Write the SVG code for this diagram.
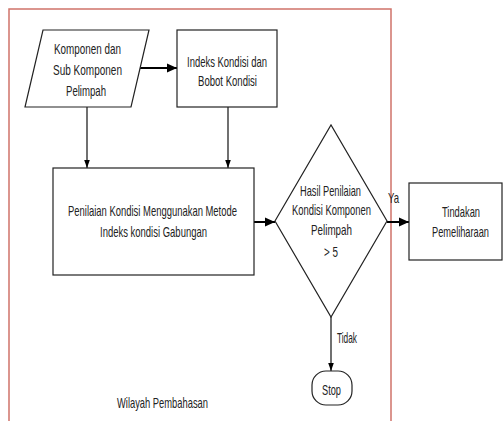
<svg xmlns="http://www.w3.org/2000/svg" width="503" height="421" viewBox="0 0 503 421">
<defs>
<style>
.shape{fill:#fff;stroke:#222;stroke-width:1.2}
.t{font-family:"Liberation Sans",Arial,sans-serif;font-size:15px;fill:#222;text-anchor:middle}
.ts{font-family:"Liberation Sans",Arial,sans-serif;font-size:15px;fill:#222}
.c{fill:none;stroke:#111;stroke-width:1.2}
.h{fill:none;stroke:#000;stroke-width:2}
.border{fill:none;stroke:#d0736a;stroke-width:1.5}
</style>
<marker id="ah" markerUnits="userSpaceOnUse" markerWidth="10" markerHeight="10" viewBox="0 0 10 10" refX="10" refY="5" orient="auto">
<path d="M0,0.5 L10,5 L0,9.5 Z" fill="#000"/>
</marker>
<marker id="av" markerUnits="userSpaceOnUse" markerWidth="8" markerHeight="10" viewBox="0 0 10 10" refX="10" refY="5" orient="auto">
<path d="M0,1.5 L10,5 L0,8.5 Z" fill="#000"/>
</marker>
</defs>
<rect width="503" height="421" fill="#fff"/>
<g id="wilayah">
<path class="border" d="M9,421 V9 H391 V421"/>
<text class="ts" x="117" y="408" textLength="91" lengthAdjust="spacingAndGlyphs">Wilayah Pembahasan</text>
</g>
<g id="connectors">
<path class="h" d="M139,68 H177" marker-end="url(#ah)"/>
<path class="c" d="M87,107 V168" marker-end="url(#av)"/>
<path class="c" d="M228,107 V168" marker-end="url(#av)"/>
<path class="h" d="M254,222 H275" marker-end="url(#ah)"/>
<path class="h" d="M387,222 H409" marker-end="url(#ah)"/>
<path class="c" d="M331,317 V371" marker-end="url(#av)"/>
<text class="t" x="393.5" y="203" textLength="11" lengthAdjust="spacingAndGlyphs">Ya</text>
<text class="ts" x="337" y="343" textLength="20" lengthAdjust="spacingAndGlyphs">Tidak</text>
</g>
<g id="komponen">
<polygon class="shape" points="43,30 149,30 131,107 25,107"/>
<text class="t" x="87.5" y="54" textLength="67" lengthAdjust="spacingAndGlyphs">Komponen dan</text>
<text class="t" x="87.5" y="75" textLength="69" lengthAdjust="spacingAndGlyphs">Sub Komponen</text>
<text class="t" x="86" y="96" textLength="40" lengthAdjust="spacingAndGlyphs">Pelimpah</text>
</g>
<g id="indeks">
<rect class="shape" x="177" y="30" width="100" height="77"/>
<text class="t" x="227" y="67" textLength="80" lengthAdjust="spacingAndGlyphs">Indeks Kondisi dan</text>
<text class="t" x="227.5" y="86" textLength="59" lengthAdjust="spacingAndGlyphs">Bobot Kondisi</text>
</g>
<g id="penilaian">
<rect class="shape" x="53" y="168" width="201" height="107"/>
<text class="t" x="152.5" y="216" textLength="169" lengthAdjust="spacingAndGlyphs">Penilaian Kondisi Menggunakan Metode</text>
<text class="t" x="153.5" y="237" textLength="107" lengthAdjust="spacingAndGlyphs">Indeks kondisi Gabungan</text>
</g>
<g id="keputusan">
<polygon class="shape" points="275,221 331,125 387,221 331,317"/>
<text class="t" x="330.5" y="196" textLength="61" lengthAdjust="spacingAndGlyphs">Hasil Penilaian</text>
<text class="t" x="331.5" y="215" textLength="79" lengthAdjust="spacingAndGlyphs">Kondisi Komponen</text>
<text class="t" x="331.5" y="235" textLength="41" lengthAdjust="spacingAndGlyphs">Pelimpah</text>
<text class="t" x="331" y="257" textLength="14" lengthAdjust="spacingAndGlyphs">&gt; 5</text>
</g>
<g id="tindakan">
<rect class="shape" x="409" y="183" width="93" height="77"/>
<text class="t" x="461" y="217" textLength="38" lengthAdjust="spacingAndGlyphs">Tindakan</text>
<text class="t" x="460.5" y="237" textLength="57" lengthAdjust="spacingAndGlyphs">Pemeliharaan</text>
</g>
<g id="stop">
<rect class="shape" x="312" y="371" width="40" height="34" rx="14" ry="14"/>
<text class="t" x="331.5" y="395" textLength="19" lengthAdjust="spacingAndGlyphs">Stop</text>
</g>
</svg>
